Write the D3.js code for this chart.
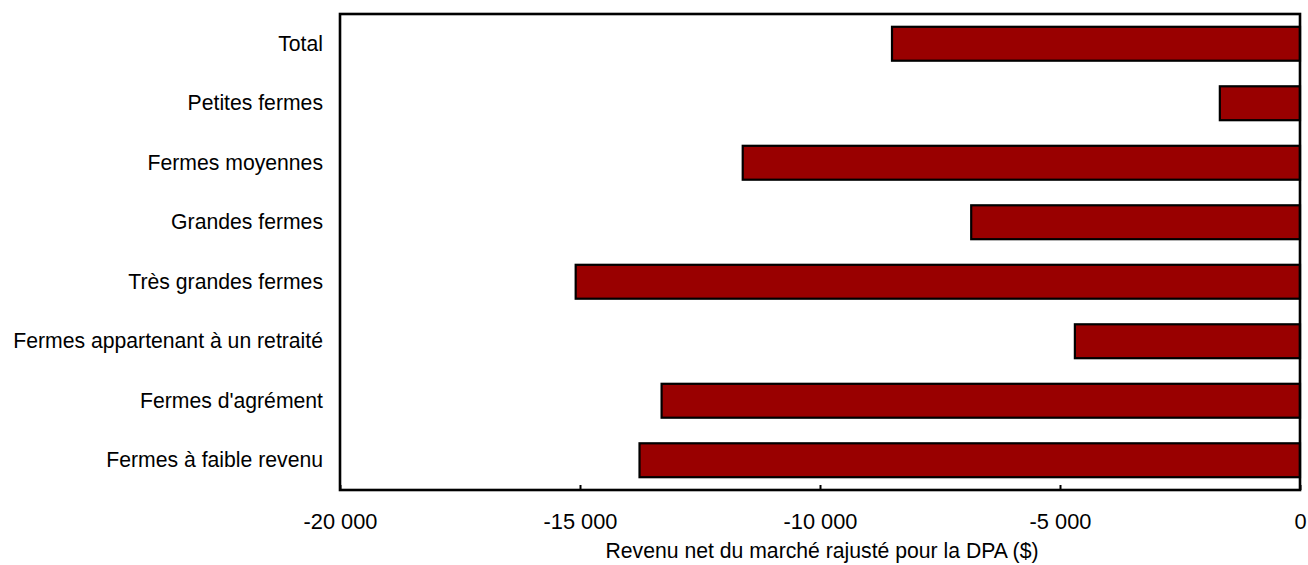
<!DOCTYPE html>
<html>
<head>
<meta charset="utf-8">
<script src="https://cdn.jsdelivr.net/npm/d3@7"></script>
<style>
  body { margin: 0; background: #fff; }
  text { font-family: "Liberation Sans", Arial, sans-serif; fill: #000; }
</style>
</head>
<body>
<div id="graph"></div>
<script>
var categories = [
    "Total",
    "Petites fermes",
    "Fermes moyennes",
    "Grandes fermes",
    "Très grandes fermes",
    "Fermes appartenant à un retraité",
    "Fermes d'agrément",
    "Fermes à faible revenu"
];
var values = [-8500, -1670, -11610, -6850, -15090, -4690, -13300, -13760];
var tickValues = [-20000, -15000, -10000, -5000, 0];
var xTitle = "Revenu net du marché rajusté pour la DPA ($)";

var width = 1308, height = 565;
var margin = {top: 14, right: 8, bottom: 75, left: 340};
var fontSize = 21.2;

var svg = d3.select("#graph")
    .append("svg")
    .attr("width", width)
    .attr("height", height);

var x = d3.scaleLinear()
    .domain([-20000, 0])
    .range([margin.left, width - margin.right]);

var y = d3.scaleBand()
    .domain(categories)
    .range([margin.top, height - margin.bottom])
    .paddingInner(0.43)
    .paddingOuter(0.215);

var fmt = function(d) {
    return d3.format(",")(d).replace(/,/g, " ").replace("−", "-");
};

// bars
svg.append("g")
    .selectAll("rect")
    .data(values)
    .enter()
    .append("rect")
    .attr("x", d => x(d))
    .attr("y", (d, i) => y(categories[i]))
    .attr("width", d => x(0) - x(d))
    .attr("height", y.bandwidth())
    .attr("fill", "#990000")
    .attr("stroke", "#000")
    .attr("stroke-width", 2.2);

// frame
svg.append("rect")
    .attr("x", margin.left)
    .attr("y", margin.top)
    .attr("width", width - margin.right - margin.left)
    .attr("height", height - margin.bottom - margin.top)
    .attr("fill", "none")
    .attr("stroke", "#000")
    .attr("stroke-width", 2.6);

// x axis, ticks pointing inward
var xAxis = svg.append("g")
    .attr("transform", "translate(0," + (height - margin.bottom) + ")")
    .call(d3.axisBottom(x).tickValues(tickValues).tickSizeInner(-5).tickSizeOuter(0).tickPadding(24).tickFormat(fmt));
xAxis.select(".domain").remove();
xAxis.selectAll("line").attr("stroke", "#000").attr("stroke-width", 2);
xAxis.selectAll("text").attr("font-size", 21.8);

// y labels
var yAxis = svg.append("g")
    .attr("transform", "translate(" + margin.left + ",0)")
    .call(d3.axisLeft(y).tickSize(0).tickPadding(17));
yAxis.select(".domain").remove();
yAxis.selectAll("text").attr("font-size", fontSize);

// x title
svg.append("text")
    .attr("x", (margin.left + width - margin.right) / 2 + 2)
    .attr("y", 558)
    .attr("text-anchor", "middle")
    .attr("font-size", fontSize)
    .text(xTitle);
</script>
</body>
</html>
